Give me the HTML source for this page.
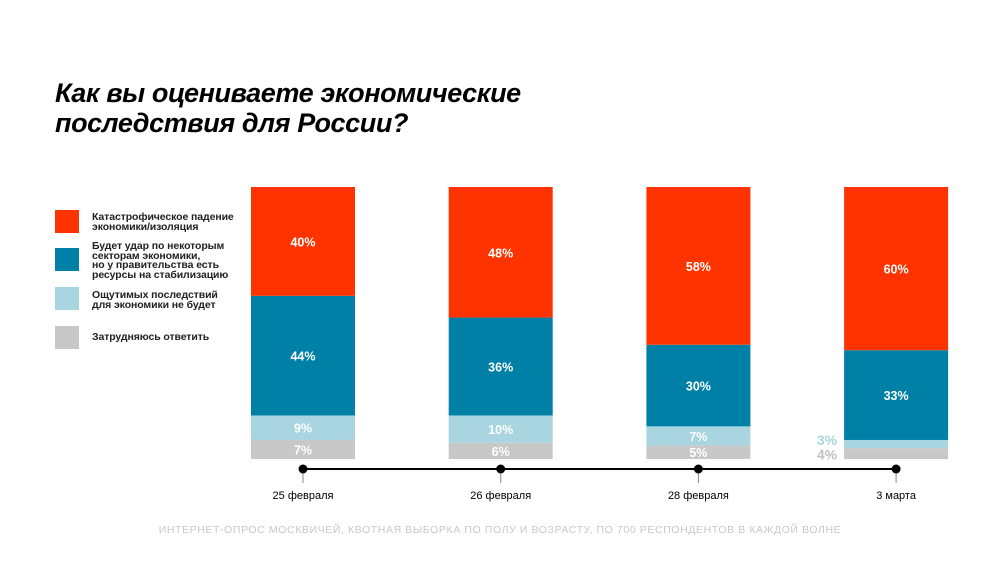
<!DOCTYPE html>
<html><head><meta charset="utf-8">
<style>
body{margin:0;background:#fff;font-family:"Liberation Sans",sans-serif;}
#wrap{position:relative;width:1000px;height:563px;overflow:hidden;}
h1{position:absolute;left:55px;top:78px;margin:0;font-size:27px;line-height:30px;font-weight:bold;font-style:italic;letter-spacing:-0.4px;color:#000;}
.lg{position:absolute;left:55px;width:24px;height:23px;}
.lt{position:absolute;left:92px;font-size:10.5px;line-height:9.7px;font-weight:bold;color:#222;letter-spacing:-0.1px;}
#foot{position:absolute;left:0;width:1000px;top:524px;text-align:center;font-size:10.5px;letter-spacing:0.6px;color:#c8c8c8;}
</style></head><body>
<div id="wrap">
<h1>Как вы оцениваете экономические<br>последствия для России?</h1>
<div class="lg" style="top:210px;background:#ff3300"></div>
<div class="lt" style="top:213px">Катастрофическое падение<br>экономики/изоляция</div>
<div class="lg" style="top:248px;background:#0080a6"></div>
<div class="lt" style="top:242px">Будет удар по некоторым<br>секторам экономики,<br>но у правительства есть<br>ресурсы на стабилизацию</div>
<div class="lg" style="top:287px;background:#a8d5e0"></div>
<div class="lt" style="top:291px">Ощутимых последствий<br>для экономики не будет</div>
<div class="lg" style="top:326px;background:#c8c8c8"></div>
<div class="lt" style="top:333px">Затрудняюсь ответить</div>
<svg id="svg" width="1000" height="563" style="position:absolute;left:0;top:0"></svg>
<div id="foot">ИНТЕРНЕТ-ОПРОС МОСКВИЧЕЙ, КВОТНАЯ ВЫБОРКА ПО ПОЛУ И ВОЗРАСТУ, ПО 700 РЕСПОНДЕНТОВ В КАЖДОЙ ВОЛНЕ</div>
</div>
<script>
const categories=["25 февраля","26 февраля","28 февраля","3 марта"];
const catastrophic=[40,48,58,60];
const partial=[44,36,30,33];
const noEffect=[9,10,7,3];
const unsure=[7,6,5,4];
const NS="http://www.w3.org/2000/svg";
const svg=document.getElementById('svg');
const x0=251,step=197.7,bw=104,yTop=187,yBot=459;
function xPos(i){return x0+i*step;}
function yScale(v){return v/100*(yBot-yTop);}
function mk(t,a){const e=document.createElementNS(NS,t);for(const k in a)e.setAttribute(k,a[k]);svg.appendChild(e);return e;}
const series=[[unsure,'#c8c8c8','#fff','unsure'],[noEffect,'#a8d5e0','#fff','no-effect'],[partial,'#0080a6','#fff','partial'],[catastrophic,'#ff3300','#fff','catastrophic']];
categories.forEach((c,i)=>{
  let y=yBot;
  series.forEach(([arr,col,tc,nm])=>{
    const h=yScale(arr[i]);y-=h;
    const r=mk('rect',{x:xPos(i),y:y,width:bw,height:h,fill:col});
    
    
    const small=h<12;
    const ty=small?(nm==='unsure'?y+h/2+6:y+h/2+1):y+h/2+5;
    const t=mk('text',{x:small?xPos(i)-7:xPos(i)+bw/2,y:ty,'text-anchor':small?'end':'middle','font-size':small?'14':'12.5','font-weight':'bold','font-family':'Liberation Sans, sans-serif',fill:small?(nm==='unsure'?'#c0c0c0':'#a8d5e0'):tc});
    t.textContent=arr[i]+'%';
    
    
  });
});
const ln=mk('line',{x1:xPos(0)+bw/2,x2:xPos(3)+bw/2,y1:469,y2:469,stroke:'#000','stroke-width':2});


categories.forEach((c,i)=>{
  const cx=xPos(i)+bw/2;
  const tk=mk('line',{x1:cx,x2:cx,y1:469,y2:483,stroke:'#888','stroke-width':1});
  
  
  const d=mk('circle',{cx:cx,cy:469,r:4.5,fill:'#000'});
  
  
  const t=mk('text',{x:cx,y:499,'text-anchor':'middle','font-size':'11','font-family':'Liberation Sans, sans-serif',fill:'#000'});
  t.textContent=c;
  
  
});
</script>
</body></html>
